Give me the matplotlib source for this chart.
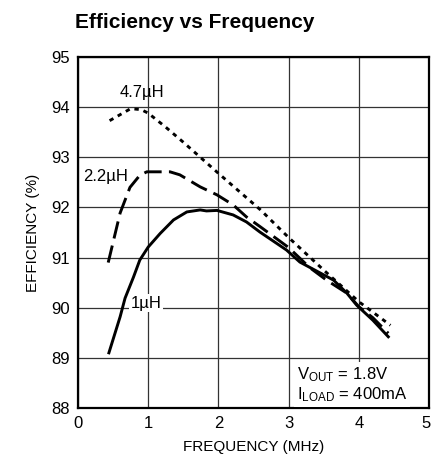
import matplotlib
matplotlib.use("Agg")
import matplotlib.pyplot as plt
from matplotlib.transforms import ScaledTranslation

plt.rcParams['font.family'] = ['Liberation Sans Narrow', 'Liberation Sans', 'DejaVu Sans']

# 4.7uH curve
f_47 = [0.45, 0.6, 0.75, 0.9, 1.0, 1.25, 1.5, 2.0, 2.6, 3.0, 3.5, 4.0, 4.45]
e_47 = [93.73, 93.85, 93.97, 93.95, 93.88, 93.6, 93.3, 92.68, 91.95, 91.4, 90.75, 90.12, 89.65]

# 2.2uH curve
f_22 = [0.43, 0.6, 0.74, 0.88, 0.98, 1.31, 1.45, 1.74, 1.98, 2.21, 2.4, 2.6, 3.0, 3.3, 3.54, 3.83, 4.0, 4.2, 4.42]
e_22 = [90.9, 91.89, 92.4, 92.64, 92.71, 92.71, 92.65, 92.41, 92.25, 92.05, 91.81, 91.61, 91.2, 90.8, 90.55, 90.29, 90.02, 89.8, 89.49]

# 1uH curve
f_1 = [0.44, 0.6, 0.67, 0.79, 0.88, 1.0, 1.17, 1.36, 1.55, 1.74, 1.83, 1.98, 2.21, 2.4, 2.59, 2.97, 3.16, 3.64, 3.83, 3.97, 4.2, 4.42]
e_1 = [89.1, 89.82, 90.19, 90.61, 90.95, 91.21, 91.48, 91.75, 91.91, 91.95, 91.93, 91.94, 91.85, 91.71, 91.51, 91.15, 90.91, 90.55, 90.29, 90.05, 89.75, 89.42]

fig = plt.figure(figsize=(4.32, 4.66), dpi=100)
ax = fig.add_axes([0.1806, 0.1245, 0.8125, 0.7532])

ax.plot(f_47, e_47, color='black', lw=2.1, dashes=(1.5, 1.7))
ax.plot(f_22, e_22, color='black', lw=2.1, dashes=(6, 2.5))
ax.plot(f_1, e_1, color='black', lw=2.1)

ax.set_xlim(0, 5)
ax.set_ylim(88, 95)
ax.set_xticks(range(0, 6))
ax.set_yticks(range(88, 96))
ax.grid(True, color='#333333', lw=0.9)
ax.tick_params(length=0, labelsize=12)
ax.tick_params(axis='x', pad=6)
ax.tick_params(axis='y', pad=6)
for s in ax.spines.values():
    s.set_linewidth(1.6)

# keep the last x tick label inside the picture
last = ax.get_xticklabels()[-1]
last.set_transform(last.get_transform() + ScaledTranslation(-2 / 72, 0, fig.dpi_scale_trans))

ax.set_xlabel('FREQUENCY (MHz)', fontsize=11, labelpad=6)
ax.set_ylabel('EFFICIENCY (%)', fontsize=11, labelpad=8)

fig.text(0.174, 0.952, 'Efficiency vs Frequency', fontsize=15, fontweight='bold', ha='left', va='center')

ax.text(0.91, 94.3, '4.7µH', fontsize=12, ha='center', va='center')
ax.text(0.39, 92.62, '2.2µH', fontsize=12, ha='center', va='center',
        bbox=dict(facecolor='white', edgecolor='none', pad=1))
ax.text(0.97, 90.09, '1µH', fontsize=12, ha='center', va='center',
        bbox=dict(facecolor='white', edgecolor='none', pad=1))
ax.text(3.12, 88.08, '$\\mathregular{V_{OUT}}$ = 1.8V\n$\\mathregular{I_{LOAD}}$ = 400mA', fontsize=12,
        ha='left', va='bottom', linespacing=1.1,
        bbox=dict(facecolor='white', edgecolor='none', pad=2))

fig.savefig('out.png', dpi=100)
